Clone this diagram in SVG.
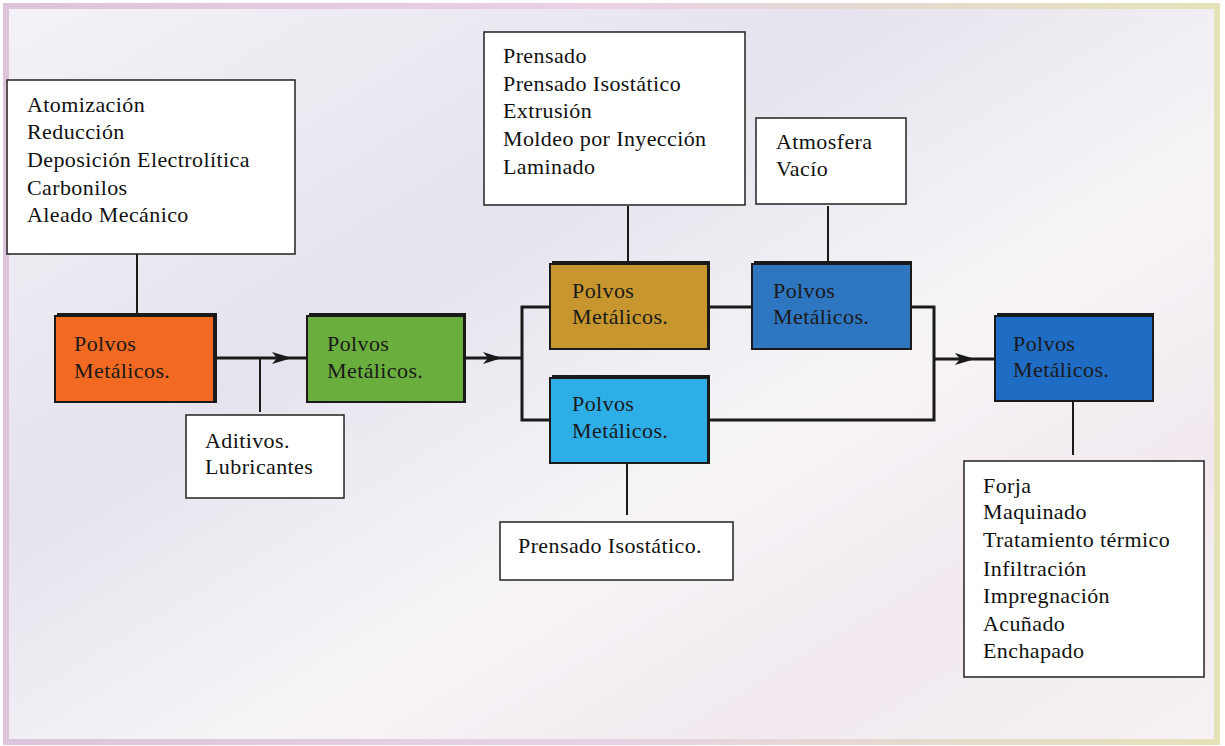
<svg xmlns="http://www.w3.org/2000/svg" width="1225" height="746" viewBox="0 0 1225 746">
<defs>
<linearGradient id="bg" x1="0" y1="0" x2="1" y2="1">
<stop offset="0" stop-color="#f4f2f6"/>
<stop offset="0.35" stop-color="#e6e3ee"/>
<stop offset="0.6" stop-color="#f7f4f7"/>
<stop offset="0.8" stop-color="#f1e9ef"/>
<stop offset="1" stop-color="#f6f1f4"/>
</linearGradient>
<linearGradient id="frame" x1="0" y1="0" x2="1" y2="0">
<stop offset="0" stop-color="#dcc4dc"/>
<stop offset="0.5" stop-color="#e8d2e4"/>
<stop offset="1" stop-color="#e4e2b8"/>
</linearGradient>
</defs>
<style>
text{font-family:'Liberation Serif','Times New Roman',serif;font-size:22px;letter-spacing:0.4px}
.t{fill:#111}
.n{fill:#1a1a1a}
.wb{fill:#fff;stroke:#222;stroke-width:1.5}
.cb{stroke:#1a1a1a;stroke-width:2}
.sh{fill:#1a1a1a}
.ln{fill:none;stroke:#1a1a1a;stroke-width:3}
.thin{fill:none;stroke:#1a1a1a;stroke-width:2}
.ah{fill:#1a1a1a}
</style>
<rect x="0" y="0" width="1225" height="746" fill="#ffffff"/>
<rect x="6" y="6" width="1211" height="736" fill="url(#bg)" stroke="url(#frame)" stroke-width="6"/>

<g id="connectors">
<line class="thin" x1="137" y1="254" x2="137" y2="315"/>
<line class="ln" x1="215" y1="358" x2="307" y2="358"/>
<line class="thin" x1="260" y1="358" x2="260" y2="412"/>
<polygon class="ah" points="272,352 292,358 272,364 277,358"/>
<line class="ln" x1="465" y1="358" x2="522" y2="358"/>
<polygon class="ah" points="483,352 502,358 483,364 488,358"/>
<polyline class="ln" points="550,307 522,307 522,420 550,420"/>
<line class="ln" x1="709" y1="307" x2="752" y2="307"/>
<polyline class="ln" points="912,307 934,307 934,420 709,420"/>
<line class="ln" x1="934" y1="359" x2="995" y2="359"/>
<polygon class="ah" points="955,353 975,359 955,365 960,359"/>
<line class="thin" x1="628" y1="206" x2="628" y2="263"/>
<line class="thin" x1="828" y1="206" x2="828" y2="263"/>
<line class="thin" x1="627" y1="463" x2="627" y2="515"/>
<line class="thin" x1="1073" y1="401" x2="1073" y2="455"/>
</g>

<g id="box-metodos">
<rect class="wb" x="7" y="80" width="288" height="174"/>
<text class="t" x="27" y="112">Atomización</text>
<text class="t" x="27" y="139">Reducción</text>
<text class="t" x="27" y="167">Deposición Electrolítica</text>
<text class="t" x="27" y="195">Carbonilos</text>
<text class="t" x="27" y="222">Aleado Mecánico</text>
</g>

<g id="node-orange">
<rect class="sh" x="57" y="313" width="160" height="90"/>
<rect class="cb" x="55" y="316" width="159" height="86" fill="#f26a21"/>
<text class="n" x="74" y="351">Polvos</text>
<text class="n" x="74" y="378">Metálicos.</text>
</g>

<g id="box-aditivos">
<rect class="wb" x="186" y="415" width="158" height="83"/>
<text class="t" x="205" y="448">Aditivos.</text>
<text class="t" x="205" y="474">Lubricantes</text>
</g>

<g id="node-green">
<rect class="sh" x="309" y="313" width="157" height="90"/>
<rect class="cb" x="307" y="316" width="157" height="86" fill="#6aae3e"/>
<text class="n" x="327" y="351">Polvos</text>
<text class="n" x="327" y="378">Metálicos.</text>
</g>

<g id="box-conformado">
<rect class="wb" x="484" y="32" width="261" height="173"/>
<text class="t" x="503" y="63">Prensado</text>
<text class="t" x="503" y="91">Prensado Isostático</text>
<text class="t" x="503" y="118">Extrusión</text>
<text class="t" x="503" y="146">Moldeo por Inyección</text>
<text class="t" x="503" y="174">Laminado</text>
</g>

<g id="box-atmosfera">
<rect class="wb" x="756" y="118" width="150" height="86"/>
<text class="t" x="776" y="149">Atmosfera</text>
<text class="t" x="776" y="176">Vacío</text>
</g>

<g id="node-gold">
<rect class="sh" x="552" y="261" width="158" height="89"/>
<rect class="cb" x="550" y="264" width="158" height="85" fill="#c8962e"/>
<text class="n" x="572" y="298">Polvos</text>
<text class="n" x="572" y="324">Metálicos.</text>
</g>

<g id="node-blue">
<rect class="sh" x="754" y="261" width="158" height="89"/>
<rect class="cb" x="752" y="264" width="159" height="85" fill="#2e76c0"/>
<text class="n" x="773" y="298">Polvos</text>
<text class="n" x="773" y="324">Metálicos.</text>
</g>

<g id="node-lightblue">
<rect class="sh" x="552" y="375" width="158" height="89"/>
<rect class="cb" x="550" y="378" width="158" height="85" fill="#2eaee6"/>
<text class="n" x="572" y="411">Polvos</text>
<text class="n" x="572" y="438">Metálicos.</text>
</g>

<g id="box-isostatico">
<rect class="wb" x="500" y="522" width="233" height="58"/>
<text class="t" x="518" y="553">Prensado Isostático.</text>
</g>

<g id="node-final">
<rect class="sh" x="997" y="313" width="157" height="89"/>
<rect class="cb" x="995" y="316" width="158" height="85" fill="#1f6cc4"/>
<text class="n" x="1013" y="351">Polvos</text>
<text class="n" x="1013" y="377">Metálicos.</text>
</g>

<g id="box-acabado">
<rect class="wb" x="964" y="461" width="240" height="216"/>
<text class="t" x="983" y="493">Forja</text>
<text class="t" x="983" y="519">Maquinado</text>
<text class="t" x="983" y="547">Tratamiento térmico</text>
<text class="t" x="983" y="576">Infiltración</text>
<text class="t" x="983" y="603">Impregnación</text>
<text class="t" x="983" y="631">Acuñado</text>
<text class="t" x="983" y="658">Enchapado</text>
</g>
</svg>
